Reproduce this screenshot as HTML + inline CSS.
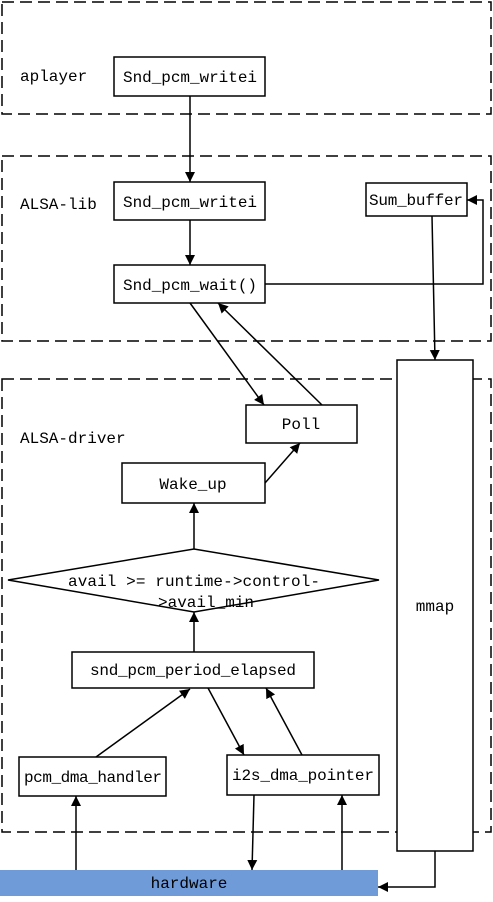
<!DOCTYPE html>
<html><head><meta charset="utf-8"><style>
body{margin:0;background:#fff}
text{font-family:"Liberation Mono","Noto Serif CJK SC",monospace;font-size:16px;fill:#000}
</style></head><body>
<svg width="493" height="897" viewBox="0 0 493 897" xmlns="http://www.w3.org/2000/svg">
<defs><marker id="a" markerWidth="10" markerHeight="12" refX="10" refY="5" orient="auto" markerUnits="userSpaceOnUse"><path d="M0,0 L10,5 L0,10 z" fill="#000"/></marker></defs>
<g fill="none" stroke="#000" stroke-width="1.5" stroke-dasharray="12,6">
<rect x="2" y="2" width="489" height="112"/>
<rect x="2" y="156" width="489" height="185"/>
<rect x="2" y="379" width="489" height="453"/>
</g>
<text x="20" y="81">aplayer</text>
<text x="20" y="209">ALSA-lib</text>
<text x="20" y="443">ALSA-driver</text>
<g fill="#fff" stroke="#000" stroke-width="1.5">
<rect x="114" y="57" width="151" height="39"/>
<rect x="114" y="182" width="151" height="38"/>
<rect x="114" y="265" width="151" height="38"/>
<rect x="366" y="183" width="101" height="33"/>
<rect x="246" y="405" width="111" height="38"/>
<rect x="122" y="463" width="143" height="40"/>
<polygon points="8,580 194,549 379,580 194,612"/>
<rect x="72" y="652" width="242" height="36"/>
<rect x="19" y="757" width="147" height="39"/>
<rect x="227" y="755" width="152" height="40"/>
<rect x="397" y="360" width="76" height="491"/>
</g>
<rect x="0" y="870" width="378" height="26" fill="#6f9bd8"/>
<g text-anchor="middle">
<text x="190" y="82" textLength="134">Snd_pcm_writei</text>
<text x="190" y="207" textLength="134">Snd_pcm_writei</text>
<text x="190" y="290" textLength="134">Snd_pcm_wait()</text>
<text x="416" y="205" textLength="94">Sum_buffer</text>
<text x="301" y="429">Poll</text>
<text x="193" y="489">Wake_up</text>
<text x="194" y="586" textLength="252">avail &gt;= runtime-&gt;control-</text>
<text x="206" y="607">&gt;avail_min</text>
<text x="193" y="675" textLength="206">snd_pcm_period_elapsed</text>
<text x="93" y="782" textLength="138">pcm_dma_handler</text>
<text x="303" y="780" textLength="142">i2s_dma_pointer</text>
<text x="435" y="611">mmap</text>
<text x="189" y="888">hardware</text>
</g>
<g fill="none" stroke="#000" stroke-width="1.5" marker-end="url(#a)">
<path d="M190,96 L190,182"/>
<path d="M190,220 L190,265"/>
<path d="M265,284 L483,284 L483,200 L467,200"/>
<path d="M432,216 L435,360"/>
<path d="M190,303 L264,405"/>
<path d="M322,405 L218,303"/>
<path d="M265,483 L300,443"/>
<path d="M194,549 L194,503"/>
<path d="M194,652 L194,612"/>
<path d="M96,757 L190,689"/>
<path d="M208,688 L244,755"/>
<path d="M302,755 L266,688"/>
<path d="M76,870 L76,796"/>
<path d="M254,795 L252,870"/>
<path d="M342,870 L342,795"/>
<path d="M435,851 L435,887 L378,887"/>
</g>
</svg>
</body></html>
